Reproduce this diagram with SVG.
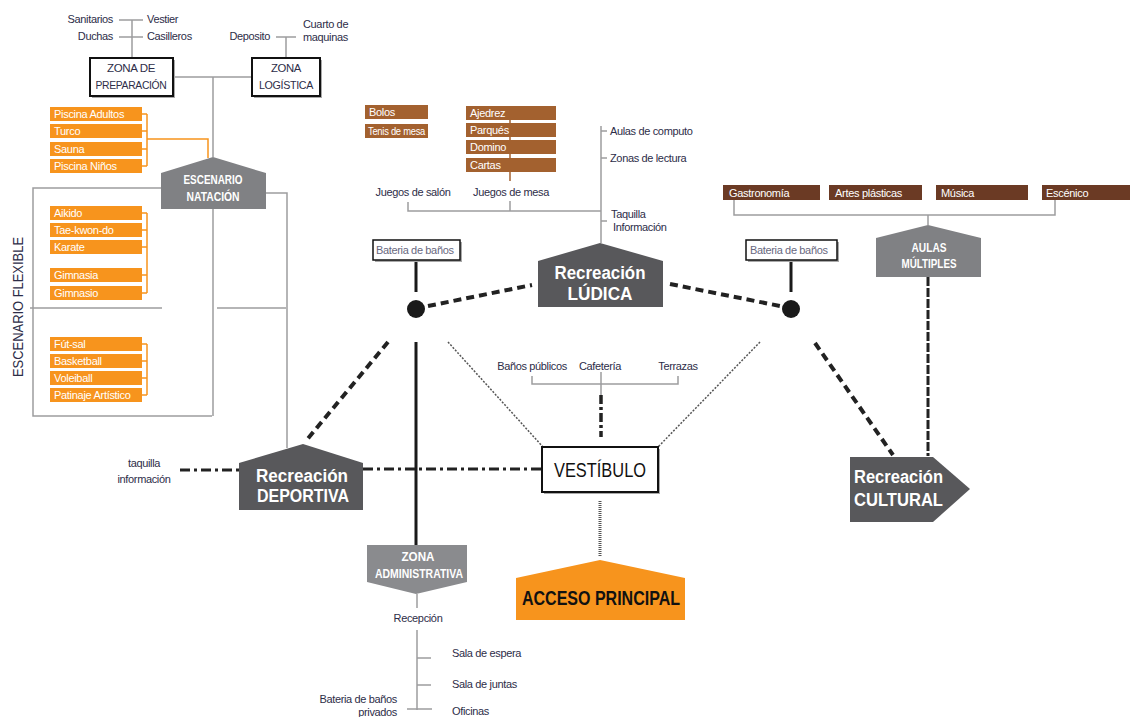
<svg xmlns="http://www.w3.org/2000/svg" width="1130" height="717" viewBox="0 0 1130 717">
<style>
text{font-family:"Liberation Sans",Arial,sans-serif}
.lb{font-size:11px;fill:#2d2d48;letter-spacing:-0.35px}
.ow{font-size:11px;fill:#ffffff;letter-spacing:-0.3px}
.orb{fill:#f7941d}
.brl{fill:#a3612f}
.brd{fill:#6b3a24}
.g{fill:none;stroke:#9d9d9f;stroke-width:1.5}
.o{fill:none;stroke:#f7941d;stroke-width:1.5}
.bx{fill:#ffffff;stroke:#111;stroke-width:2}
.sh{fill:#a9a9a9}
.dk{fill:#58585b}
.md{fill:#808184}
.big{font-weight:bold;fill:#ffffff;font-size:18px}
.sm{font-weight:bold;fill:#ffffff;font-size:12px}
.thk{fill:none;stroke:#222;stroke-width:4;stroke-dasharray:8 5}
.sol{fill:none;stroke:#1a1a1a;stroke-width:3}
.dot{fill:none;stroke:#555;stroke-width:1.5;stroke-dasharray:2 1.5}
.dd{fill:none;stroke:#222;stroke-width:3;stroke-dasharray:10 4 3 4}
.bt{font-size:11px;fill:#686880;letter-spacing:-0.35px}
</style>

<g id="connectors">
  <path class="g" d="M119,20 H143 M119,37 H143 M132,20 V58"/>
  <path class="g" d="M276,37 H296 M286,37 V58"/>
  <path class="g" d="M173,77 H252 M213,77 V157"/>
  <path class="o" d="M142,114 H147 M142,131 H147 M142,149 H147 M142,166 H147 M147,114 V166 M147,139 H208 V158"/>
  <path class="o" d="M142,213 H147 M142,230 H147 M142,247 H147 M142,275 H147 M142,293 H147 M147,213 V293"/>
  <path class="o" d="M142,344 H147 M142,361 H147 M142,378 H147 M142,395 H147 M147,344 V395"/>
  <path class="g" d="M161,188 H33 V416 H212 M213,209 V416 M30,308 H162 M217,308 H286 M266,193 H287 V448"/>
  <path class="g" d="M601,126 V243 M601,131 H607 M601,158 H607 M601,221 H607 M408,202 V211 H601 M510,201 V211"/>
  <line x1="510" y1="106" x2="510" y2="181" stroke="#a3612f" stroke-width="1.5"/>
  <path class="g" d="M734,200 V215 H1055 V200 M928,215 V225"/>
  <path class="sol" d="M416,261 V292 M791,261 V292 M416,342 V545"/>
  <path class="thk" d="M428,306 L532,285"/>
  <path class="thk" d="M670,284 L780,306"/>
  <path class="thk" d="M388,342 L305,442"/>
  <path class="thk" d="M815,343 L893,455"/>
  <line x1="928" y1="277" x2="928" y2="456" stroke="#222" stroke-width="3" stroke-dasharray="9 2"/>
  <path class="dot" d="M448,342 L543,447 M760,342 L658,447"/>
  <path class="g" d="M532,376 V384 H678 V376 M601,372 V395"/>
  <line x1="601" y1="395" x2="601" y2="437" stroke="#222" stroke-width="3.5" stroke-dasharray="9 3 3 3"/>
  <path class="dd" d="M363,469 H542"/>
  <path class="dd" d="M180,470 H239"/>
  <line x1="600" y1="501" x2="600" y2="556" stroke="#555" stroke-width="3" stroke-dasharray="1 1"/>
  <path class="g" d="M417,594 V608 M417,630 V710 M417,658 H431 M417,685 H431 M407,709 H432"/>
</g>

<g id="labels-top-left">
  <text class="lb" x="113" y="23" text-anchor="end">Sanitarios</text>
  <text class="lb" x="147" y="23">Vestier</text>
  <text class="lb" x="113" y="40" text-anchor="end">Duchas</text>
  <text class="lb" x="147" y="40">Casilleros</text>
  <text class="lb" x="270" y="40" text-anchor="end">Deposito</text>
  <text class="lb" x="303" y="28">Cuarto de</text>
  <text class="lb" x="303" y="41">maquinas</text>
</g>

<g id="zona-preparacion">
  <rect class="sh" x="92" y="60" width="83" height="38"/>
  <rect class="bx" x="90" y="58" width="83" height="38"/>
  <text class="lb" x="131" y="72" text-anchor="middle" textLength="48" lengthAdjust="spacingAndGlyphs">ZONA DE</text>
  <text class="lb" x="131" y="89" text-anchor="middle" textLength="71" lengthAdjust="spacingAndGlyphs">PREPARACIÓN</text>
</g>
<g id="zona-logistica">
  <rect class="sh" x="254" y="60" width="68" height="38"/>
  <rect class="bx" x="252" y="58" width="68" height="38"/>
  <text class="lb" x="286" y="72" text-anchor="middle" textLength="30" lengthAdjust="spacingAndGlyphs">ZONA</text>
  <text class="lb" x="286" y="89" text-anchor="middle" textLength="54" lengthAdjust="spacingAndGlyphs">LOGÍSTICA</text>
</g>

<g id="natacion-list">
  <rect class="orb" x="50" y="107" width="92" height="14"/><text class="ow" x="54" y="118">Piscina Adultos</text>
  <rect class="orb" x="50" y="124" width="92" height="14"/><text class="ow" x="54" y="135">Turco</text>
  <rect class="orb" x="50" y="142" width="92" height="14"/><text class="ow" x="54" y="153">Sauna</text>
  <rect class="orb" x="50" y="159" width="92" height="14"/><text class="ow" x="54" y="170">Piscina Niños</text>
</g>
<g id="escenario-natacion">
  <polygon class="md" points="161,173 213,157 266,173 266,209 161,209"/>
  <text class="sm" x="213" y="184" text-anchor="middle" font-weight="normal" textLength="59" lengthAdjust="spacingAndGlyphs">ESCENARIO</text>
  <text class="sm" x="213" y="201" text-anchor="middle" font-weight="normal" textLength="53" lengthAdjust="spacingAndGlyphs">NATACIÓN</text>
</g>

<g id="flexible-list">
  <rect class="orb" x="50" y="206" width="92" height="14"/><text class="ow" x="54" y="217">Aikido</text>
  <rect class="orb" x="50" y="223" width="92" height="14"/><text class="ow" x="54" y="234">Tae-kwon-do</text>
  <rect class="orb" x="50" y="240" width="92" height="14"/><text class="ow" x="54" y="251">Karate</text>
  <rect class="orb" x="50" y="268" width="92" height="14"/><text class="ow" x="54" y="279">Gimnasia</text>
  <rect class="orb" x="50" y="286" width="92" height="14"/><text class="ow" x="54" y="297">Gimnasio</text>
  <rect class="orb" x="50" y="337" width="92" height="14"/><text class="ow" x="54" y="348">Fút-sal</text>
  <rect class="orb" x="50" y="354" width="92" height="14"/><text class="ow" x="54" y="365">Basketball</text>
  <rect class="orb" x="50" y="371" width="92" height="14"/><text class="ow" x="54" y="382">Voleiball</text>
  <rect class="orb" x="50" y="388" width="92" height="14"/><text class="ow" x="54" y="399">Patinaje Artístico</text>
  <text x="23" y="307" transform="rotate(-90 23 307)" text-anchor="middle" font-size="14" fill="#2d2d48" textLength="140" lengthAdjust="spacingAndGlyphs">ESCENARIO FLEXIBLE</text>
</g>

<g id="juegos">
  <rect class="brl" x="365" y="105" width="63" height="14"/><text class="ow" x="369" y="116">Bolos</text>
  <rect class="brl" x="365" y="124" width="63" height="14"/><text class="ow" x="368" y="135" textLength="57" lengthAdjust="spacingAndGlyphs">Tenis de mesa</text>
  <rect class="brl" x="466" y="106" width="90" height="14"/><text class="ow" x="470" y="117">Ajedrez</text>
  <rect class="brl" x="466" y="123" width="90" height="14"/><text class="ow" x="470" y="134">Parqués</text>
  <rect class="brl" x="466" y="140" width="90" height="14"/><text class="ow" x="470" y="151">Domino</text>
  <rect class="brl" x="466" y="158" width="90" height="14"/><text class="ow" x="470" y="169">Cartas</text>
  <text class="lb" x="413" y="196" text-anchor="middle">Juegos de salón</text>
  <text class="lb" x="511" y="196" text-anchor="middle">Juegos de mesa</text>
  <text class="lb" x="610" y="135">Aulas de computo</text>
  <text class="lb" x="610" y="162">Zonas de lectura</text>
  <text class="lb" x="611" y="218">Taquilla</text>
  <text class="lb" x="613" y="231">Información</text>
</g>

<g id="aulas-list">
  <rect class="brd" x="723" y="185" width="97" height="15"/><text class="ow" x="729" y="197">Gastronomía</text>
  <rect class="brd" x="829" y="185" width="93" height="15"/><text class="ow" x="835" y="197">Artes plásticas</text>
  <rect class="brd" x="936" y="185" width="92" height="15"/><text class="ow" x="941" y="197">Música</text>
  <rect class="brd" x="1042" y="185" width="88" height="15"/><text class="ow" x="1046" y="197">Escénico</text>
</g>
<g id="aulas-multiples">
  <polygon class="md" points="876,238 928,225 981,238 981,277 876,277"/>
  <text class="sm" x="929" y="252" text-anchor="middle" font-weight="normal" textLength="35" lengthAdjust="spacingAndGlyphs">AULAS</text>
  <text class="sm" x="929" y="268" text-anchor="middle" font-weight="normal" textLength="55" lengthAdjust="spacingAndGlyphs">MÚLTIPLES</text>
</g>

<g id="bateria-left">
  <rect class="sh" x="375" y="242" width="87" height="20"/>
  <rect x="373" y="240" width="87" height="20" fill="#fff" stroke="#111" stroke-width="1.5"/>
  <text class="bt" x="376" y="254">Bateria de baños</text>
  <circle cx="416" cy="309" r="9" fill="#1a1a1a"/>
</g>
<g id="bateria-right">
  <rect class="sh" x="748" y="242" width="91" height="20"/>
  <rect x="746" y="240" width="91" height="20" fill="#fff" stroke="#111" stroke-width="1.5"/>
  <text class="bt" x="750" y="254">Bateria de baños</text>
  <circle cx="791" cy="309" r="9" fill="#1a1a1a"/>
</g>

<g id="recreacion-ludica">
  <polygon class="dk" points="538,261 600,243 663,261 663,307 538,307"/>
  <text class="big" x="600" y="279" text-anchor="middle" textLength="91" lengthAdjust="spacingAndGlyphs">Recreación</text>
  <text class="big" x="600" y="300" text-anchor="middle" textLength="65" lengthAdjust="spacingAndGlyphs">LÚDICA</text>
</g>

<g id="servicios">
  <text class="lb" x="532" y="370" text-anchor="middle">Baños públicos</text>
  <text class="lb" x="600" y="370" text-anchor="middle">Cafetería</text>
  <text class="lb" x="678" y="370" text-anchor="middle">Terrazas</text>
</g>

<g id="vestibulo">
  <rect class="sh" x="544" y="449" width="116" height="45"/>
  <rect class="bx" x="542" y="447" width="116" height="45"/>
  <text x="600" y="477" text-anchor="middle" font-size="21" fill="#111" textLength="92" lengthAdjust="spacingAndGlyphs">VESTÍBULO</text>
</g>

<g id="recreacion-deportiva">
  <polygon class="dk" points="239,463 303,444 363,463 363,510 239,510"/>
  <text class="big" x="302" y="482" text-anchor="middle" textLength="92" lengthAdjust="spacingAndGlyphs">Recreación</text>
  <text class="big" x="303" y="502" text-anchor="middle" textLength="92" lengthAdjust="spacingAndGlyphs">DEPORTIVA</text>
</g>
<g id="taquilla">
  <text class="lb" x="144" y="467" text-anchor="middle">taquilla</text>
  <text class="lb" x="144" y="483" text-anchor="middle">información</text>
</g>

<g id="recreacion-cultural">
  <polygon class="dk" points="850,457 933,457 970,489 933,522 850,522"/>
  <text class="big" x="854" y="483" textLength="89" lengthAdjust="spacingAndGlyphs">Recreación</text>
  <text class="big" x="854" y="506" textLength="89" lengthAdjust="spacingAndGlyphs">CULTURAL</text>
</g>

<g id="acceso-principal">
  <polygon class="orb" points="516,578 600,560 685,578 685,620 516,620"/>
  <text x="601" y="605" text-anchor="middle" font-size="20" font-weight="bold" fill="#111" textLength="158" lengthAdjust="spacingAndGlyphs">ACCESO PRINCIPAL</text>
</g>

<g id="zona-administrativa">
  <polygon points="367,545 467,545 467,582 416,594 367,582" fill="#8a8b8e"/>
  <text class="sm" x="418" y="561" text-anchor="middle" textLength="33" lengthAdjust="spacingAndGlyphs">ZONA</text>
  <text class="sm" x="419" y="578" text-anchor="middle" textLength="88" lengthAdjust="spacingAndGlyphs">ADMINISTRATIVA</text>
</g>
<g id="admin-list">
  <text class="lb" x="418" y="622" text-anchor="middle">Recepción</text>
  <text class="lb" x="452" y="657">Sala de espera</text>
  <text class="lb" x="452" y="688">Sala de juntas</text>
  <text class="lb" x="452" y="715">Oficinas</text>
  <text class="lb" x="397" y="703" text-anchor="end">Bateria de baños</text>
  <text class="lb" x="397" y="716" text-anchor="end">privados</text>
</g>
</svg>
